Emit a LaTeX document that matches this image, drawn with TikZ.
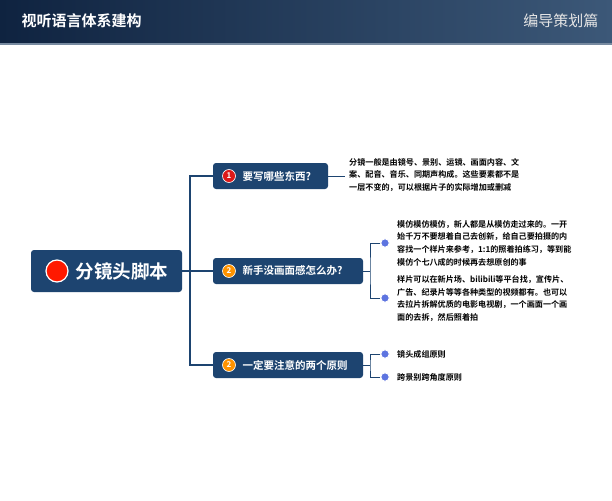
\documentclass[tikz,border=0pt]{standalone}
\usepackage{fontspec}
\setmainfont{Noto Sans CJK SC}
\newfontfamily\cjkb{Noto Sans CJK SC Bold}
\begin{document}
\begin{tikzpicture}[x=1pt,y=-1pt,
  box/.style={fill=navy,rounded corners=3pt,inner sep=0pt,text=white},
  ln/.style={draw=navy,line width=1.3pt},
  num/.style={circle,draw=white,line width=0.6pt,inner sep=0pt,minimum size=13pt,text=white,font=\cjkb\fontsize{8}{8}\selectfont},
  bul/.style={circle,fill=bulc,draw=white,line width=1pt,minimum size=8.5pt,inner sep=0pt},
  desc/.style={anchor=north west,align=left,font=\cjkb\fontsize{8.1}{12.8}\selectfont,text=black,inner sep=0pt}]
\definecolor{navy}{HTML}{1D4470}
\definecolor{bulc}{HTML}{5D74E0}
\definecolor{hdA}{HTML}{0F2340}
\definecolor{hdB}{HTML}{3C5878}
\useasboundingbox (0,0) rectangle (612,500);
\fill[white] (0,0) rectangle (612,500);
\shade[left color=hdA,right color=hdB] (0,0) rectangle (612,43);
\fill[hdB!70!white] (0,43) rectangle (612,45);
\node[anchor=west,text=white,font=\cjkb\fontsize{15}{15}\selectfont] (title) at (18,21) {视听语言体系建构};
\node[anchor=east,text=white!80!gray,font=\fontsize{15}{15}\selectfont] (sub) at (602,21) {编导策划篇};
% central
\node[box,minimum width=151pt,minimum height=42pt] (c) at (106.5,271) {};
\node[circle,fill=red!80!orange,draw=white,line width=1.2pt,minimum size=22pt] (cd) at (57,271) {};
\node[anchor=west,text=white,font=\cjkb\fontsize{18.5}{18.5}\selectfont] (ct) at (72,271) {分镜头脚本};
% branches
\node[box,minimum width=115pt,minimum height=26pt] (b1) at (270.5,176) {};
\node[box,minimum width=150pt,minimum height=26pt] (b2) at (288,271) {};
\node[box,minimum width=150pt,minimum height=26pt] (b3) at (288,365) {};
\node[num,fill=red!85!black!90] (n1) at (229,176) {1};
\node[num,fill=orange!85!yellow] (n2) at (229,271) {2};
\node[num,fill=orange!85!yellow] (n3) at (229,365) {2};
\node[anchor=west,text=white,font=\cjkb\fontsize{10.5}{10.5}\selectfont] at (239,176) {要写哪些东西?};
\node[anchor=west,text=white,font=\cjkb\fontsize{10.5}{10.5}\selectfont] at (239,271) {新手没画面感怎么办?};
\node[anchor=west,text=white,font=\cjkb\fontsize{10.5}{10.5}\selectfont] at (239,365) {一定要注意的两个原则};
\draw[ln] (c.east) -- (b2.west);
\draw[ln] (b1.west) -| (190,271) |- (b3.west);
% branch 1 text
\coordinate (t1) at (345,176);
\draw[navy,line width=0.8pt] (b1.east) -- (t1);
\node[desc] (d1) at (349,158) {分镜一般是由镜号、景别、运镜、画面内容、文\\案、配音、音乐、同期声构成。这些要素都不是\\一层不变的，可以根据片子的实际增加或删减};
% branch 2
\node[bul] (p1) at (385,243) {};
\node[bul] (p2) at (385,298) {};
\draw[ln,line width=1pt] (b2.east) -- (370,271);
\draw[ln,line width=1pt] (p1.west) -| (370,271) |- (p2.west);
\node[desc] (d2) at (397,220) {模仿模仿模仿，新人都是从模仿走过来的。一开\\始千万不要想着自己去创新，给自己要拍摄的内\\容找一个样片来参考，1:1的照着拍练习，等到能\\模仿个七八成的时候再去想原创的事};
\node[desc] (d3) at (397,275) {样片可以在新片场、bilibili等平台找，宣传片、\\广告、纪录片等等各种类型的视频都有。也可以\\去拉片拆解优质的电影电视剧，一个画面一个画\\面的去拆，然后照着拍};
% branch 3
\node[bul] (q1) at (385,354) {};
\node[bul] (q2) at (385,377) {};
\draw[ln,line width=1pt] (b3.east) -- (370,365);
\draw[ln,line width=1pt] (q1.west) -| (370,365) |- (q2.west);
\node[desc,anchor=west] (e1) at (397,354) {镜头成组原则};
\node[desc,anchor=west] (e2) at (397,377) {跨景别跨角度原则};
\end{tikzpicture}
\end{document}
